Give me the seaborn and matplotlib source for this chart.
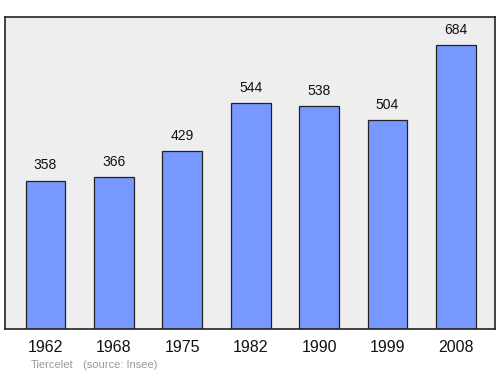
import matplotlib
matplotlib.use("Agg")
import matplotlib.pyplot as plt
import seaborn as sns
import pandas as pd

years = ["1962", "1968", "1975", "1982", "1990", "1999", "2008"]
population = [358, 366, 429, 544, 538, 504, 684]
town = "Tiercelet"
source = "(source: Insee)"

sns.set_style("white")
plt.rcParams['font.family'] = ['Liberation Sans', 'DejaVu Sans']

df = pd.DataFrame({"year": years, "pop": population})

fig = plt.figure(figsize=(5, 3.74), dpi=100)
ax = fig.add_axes([0.01, 0.1203, 0.98, 0.8342])
ax.set_facecolor("#eeeeee")

sns.barplot(data=df, x="year", y="pop", ax=ax, color="#7799ff", saturation=1,
            width=0.58, edgecolor="#222222", linewidth=0.9)

for i, v in enumerate(population):
    ax.annotate(str(v), (i, v), xytext=(0, 6), textcoords="offset points",
                ha="center", va="bottom", fontsize=10, color="#111111")

ax.set_xlim(-0.59, 6.57)
ax.set_ylim(0, max(population) * 1.1)
ax.set_yticks([])
ax.set_xlabel("")
ax.set_ylabel("")
ax.tick_params(axis="x", length=0, pad=8, labelsize=11.5, colors="#111111")
for s in ax.spines.values():
    s.set_visible(True)
    s.set_color("#222222")
    s.set_linewidth(1.2)

fig.text(31 / 500, 1 - 365 / 374, town, fontsize=8, color="#999999", va="center", ha="left")
fig.text(83 / 500, 1 - 365 / 374, source, fontsize=8, color="#999999", va="center", ha="left")

fig.savefig("out.png", dpi=100)
